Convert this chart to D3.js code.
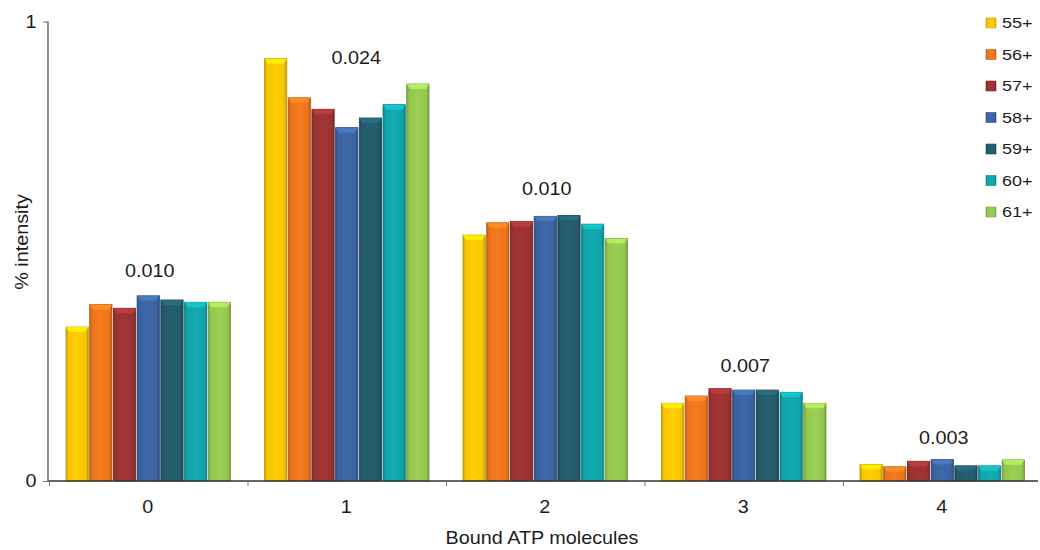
<!DOCTYPE html>
<html>
<head>
<meta charset="utf-8">
<script src="https://d3js.org/d3.v7.min.js"></script>
<style>
  body { margin: 0; background: #fff; }
  text { font-family: "Liberation Sans", Arial, sans-serif; fill: #1c1c1c; }
</style>
</head>
<body>
<div id="chart"></div>
<script>
// categories on the x axis
var atpCounts = ["0", "1", "2", "3", "4"]
// charge-state series
var chargeStates = ["55+", "56+", "57+", "58+", "59+", "60+", "61+"]
// bar values per series, one value per ATP count
var s55 = [0.335, 0.919, 0.535, 0.169, 0.036]
var s56 = [0.384, 0.834, 0.562, 0.185, 0.031]
var s57 = [0.376, 0.809, 0.565, 0.201, 0.043]
var s58 = [0.403, 0.769, 0.576, 0.198, 0.047]
var s59 = [0.394, 0.790, 0.578, 0.198, 0.033]
var s60 = [0.389, 0.819, 0.559, 0.193, 0.033]
var s61 = [0.389, 0.864, 0.528, 0.169, 0.046]
// p-value labels above each group, and the value level they sit at
var pLabels = ["0.010", "0.024", "0.010", "0.007", "0.003"]
var pLabelAt = [0.458, 0.922, 0.637, 0.252, 0.095]
var yTicks = [0, 1]
var colors = ["#f7c400", "#ea741c", "#9a3232", "#3b63a0", "#235a6a", "#11a3a8", "#93c54f"]

var allSeries = [s55, s56, s57, s58, s59, s60, s61]

var width = 1040, height = 550
var stretch = 1.1   // the original's lettering is set a bit wide
var svg = d3.select("#chart").append("svg")
  .attr("width", width)
  .attr("height", height)

var x0 = d3.scaleBand().domain(atpCounts).range([48.5, 1041])
var x1 = d3.scaleBand().domain(chargeStates).range([17.5, 182]).paddingInner(0.06)
var y = d3.scaleLinear().domain([0, 1]).range([481, 21.5])

// put a wide text at x,y (optionally rotated)
function label(x, yy, str, size, anchor, rot) {
  var g = svg.append("g")
    .attr("transform", "translate(" + x + "," + yy + ") rotate(" + (rot || 0) + ") scale(" + stretch + ",1)")
  return g.append("text")
    .attr("dy", "0.35em")
    .attr("text-anchor", anchor || "middle")
    .style("font-size", size + "px")
    .text(str)
}

// gradients for the bevelled bars
var defs = svg.append("defs")
colors.forEach(function (c, i) {
  var g = defs.append("linearGradient").attr("id", "grad" + i)
    .attr("x1", "0%").attr("x2", "100%").attr("y1", "0%").attr("y2", "0%")
  g.append("stop").attr("offset", "0%").attr("stop-color", d3.color(c).darker(0.5))
  g.append("stop").attr("offset", "12%").attr("stop-color", c)
  g.append("stop").attr("offset", "50%").attr("stop-color", d3.color(c).brighter(0.15))
  g.append("stop").attr("offset", "88%").attr("stop-color", c)
  g.append("stop").attr("offset", "100%").attr("stop-color", d3.color(c).darker(0.6))
})

// bars
var groups = svg.selectAll("g.grp")
  .data(atpCounts)
  .enter().append("g")
  .attr("class", "grp")
  .attr("transform", function (d) { return "translate(" + x0(d) + ",0)" })

groups.each(function (cat, ci) {
  var g = d3.select(this)
  chargeStates.forEach(function (s, si) {
    var v = allSeries[si][ci]
    var bx = x1(s), bw = x1.bandwidth(), top = y(v)
    g.append("rect")
      .attr("x", bx).attr("y", top)
      .attr("width", bw).attr("height", y(0) - top)
      .attr("fill", "url(#grad" + si + ")")
      .attr("stroke", d3.color(colors[si]).darker(0.8))
      .attr("stroke-width", 0.8)
    // lighter bevel cap
    var cap = Math.min(5, (y(0) - top) / 2)
    g.append("path")
      .attr("d", "M" + bx + "," + top + "L" + (bx + bw) + "," + top +
        "L" + (bx + bw - 3) + "," + (top + cap) + "L" + (bx + 3) + "," + (top + cap) + "Z")
      .attr("fill", d3.color(colors[si]).brighter(0.6))
      .attr("opacity", 0.85)
  })
})

// p-value labels
pLabels.forEach(function (d, i) {
  label(x0(atpCounts[i]) + x0.bandwidth() / 2 + (i == 1 ? 10 : 2), y(pLabelAt[i]), d, 18)
})

// x axis
var xAxisG = svg.append("g").attr("transform", "translate(0," + y(0) + ")")
xAxisG.append("line")
  .attr("x1", 48).attr("x2", 1038)
  .attr("stroke", "#333").attr("stroke-width", 1.3)
xAxisG.selectAll("line.xt")
  .data(atpCounts)
  .enter().append("line")
  .attr("class", "xt")
  .attr("x1", function (d) { return x0(d) + 1 }).attr("x2", function (d) { return x0(d) + 1 })
  .attr("y1", 0).attr("y2", 5)
  .attr("stroke", "#777").attr("stroke-width", 1)
atpCounts.forEach(function (d) {
  label(x0(d) + x0.bandwidth() / 2, y(0) + 26, d, 18)
})

// y axis
var yAxis = d3.axisLeft(y).tickValues(yTicks).tickFormat(d3.format("d")).tickSize(5).tickPadding(5.5)
var yAxisG = svg.append("g").attr("transform", "translate(48,0)").call(yAxis)
yAxisG.select(".domain").attr("stroke", "#555").attr("stroke-width", 1.3)
  .attr("d", "M0," + y(1) + "V" + y(0))
yAxisG.selectAll(".tick line").attr("stroke", "#777")
yAxisG.selectAll(".tick text")
  .attr("transform", "scale(" + stretch + ",1)")
  .style("font-size", "18px")
  .style("font-family", "\"Liberation Sans\", Arial, sans-serif")
  .attr("fill", "#1c1c1c")

// axis titles
label(542, 538, "Bound ATP molecules", 18)
label(22, 242, "% intensity", 18, "middle", -90)

// legend
var legend = svg.selectAll("g.leg")
  .data(chargeStates)
  .enter().append("g")
  .attr("class", "leg")
  .attr("transform", function (d, i) { return "translate(986," + (23 + i * 31.5) + ")" })
legend.append("rect")
  .attr("x", 0).attr("y", -5)
  .attr("width", 10).attr("height", 10)
  .attr("fill", function (d, i) { return "url(#grad" + i + ")" })
  .attr("stroke", function (d, i) { return d3.color(colors[i]).darker(0.5) })
  .attr("stroke-width", 0.6)
legend.append("text")
  .attr("transform", "translate(16,0) scale(1.2,1)")
  .attr("dy", "0.35em")
  .style("font-size", "15px")
  .text(function (d) { return d })
</script>
</body>
</html>
